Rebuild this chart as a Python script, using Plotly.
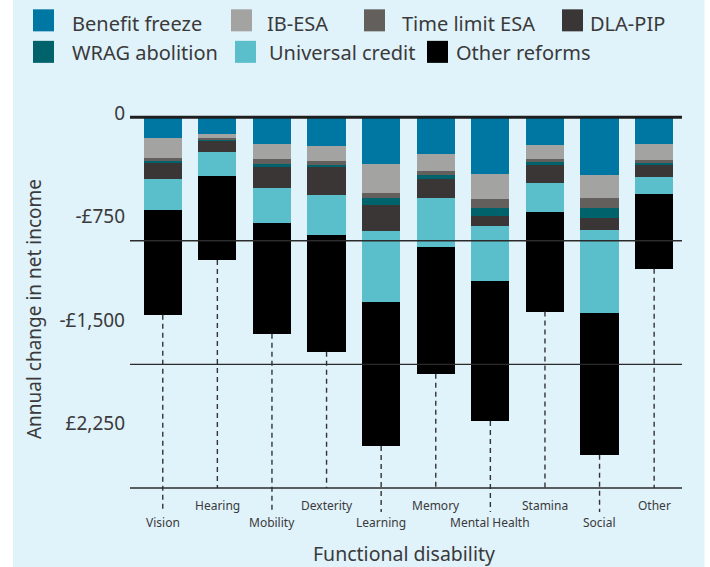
import numpy as np
import plotly.graph_objects as go

# ---------------- data ----------------
categories = ["Vision", "Hearing", "Mobility", "Dexterity", "Learning",
              "Memory", "Mental Health", "Stamina", "Social", "Other"]
benefit_freeze = [126, 101, 162, 174, 284, 223, 344, 168, 350, 162]
ib_esa = [121, 24, 91, 91, 176, 103, 152, 85, 140, 97]
time_limit_esa = [16, 18, 36, 30, 30, 24, 55, 24, 61, 24]
wrag_abolition = [14, 2, 12, 6, 43, 24, 49, 12, 61, 6]
dla_pip = [97, 67, 128, 170, 158, 115, 61, 109, 73, 73]
universal_credit = [188, 146, 213, 243, 429, 298, 332, 176, 502, 103]
other_reforms = [636, 508, 672, 709, 875, 769, 850, 605, 862, 454]

series_names = ["Benefit freeze", "IB-ESA", "Time limit ESA", "WRAG abolition",
                "DLA-PIP", "Universal credit", "Other reforms"]
series_values = [benefit_freeze, ib_esa, time_limit_esa, wrag_abolition,
                 dla_pip, universal_credit, other_reforms]
legend_order = ["Benefit freeze", "IB-ESA", "Time limit ESA", "DLA-PIP",
                "WRAG abolition", "Universal credit", "Other reforms"]

y_tick_values = [24, -604, -1231, -1858]
y_tick_labels = ["0", "-£750", "-£1,500", "£2,250"]
grid_values = [-750, -1500, -2250]

# ---------------- styles ----------------
colors = ["#0077A3", "#A3A3A1", "#625F5D", "#00626A", "#3A3635", "#5ABFCB", "#000000"]
color_of = dict(zip(series_names, colors))
BG = "#E0F2FA"
TXT = "#3A3A3A"
FONT = "Noto Sans"

W, H = 710, 567
ML, MR, MT, MB = 130, 28, 109.1, 51.2
PW, PH = W - ML - MR, H - MT - MB


def px_x(px):
    return (px - ML) / PW


def px_y(py):
    return (H - MB - py) / PH


fig = go.Figure()
for name, vals, col in zip(series_names, series_values, colors):
    fig.add_trace(go.Bar(
        x=categories, y=[-v for v in vals], name=name,
        marker=dict(color=col, line=dict(width=0)),
        showlegend=False, hoverinfo="x+y+name",
    ))

totals = np.sum(np.array(series_values), axis=0)

# dashed drop lines from bar bottom to axis / label
lower_row = [i % 2 == 0 for i in range(len(categories))]
dx, dy = [], []
for cat, tot, low in zip(categories, totals, lower_row):
    dx += [cat, cat, None]
    dy += [-float(tot), -2396 if low else grid_values[-1], None]
fig.add_trace(go.Scatter(
    x=dx, y=dy, mode="lines", showlegend=False, hoverinfo="skip",
    line=dict(color="#333333", width=1.4, dash="5px,4px"),
))

shapes = []
# zero line and grid lines
shapes.append(dict(type="line", xref="paper", yref="y", x0=0, x1=1, y0=0, y1=0,
                   line=dict(color="#1E1E1E", width=3), layer="above"))
for g in grid_values:
    shapes.append(dict(type="line", xref="paper", yref="y", x0=0, x1=1, y0=g, y1=g,
                       line=dict(color="#2B2B2B", width=1.4), layer="above"))
# white page margins
shapes.append(dict(type="rect", xref="paper", yref="paper", x0=px_x(-5), x1=px_x(13),
                   y0=px_y(H + 5), y1=px_y(-5), fillcolor="white", line=dict(width=0),
                   layer="below"))
shapes.append(dict(type="rect", xref="paper", yref="paper", x0=px_x(704.5), x1=px_x(W + 5),
                   y0=px_y(H + 5), y1=px_y(-5), fillcolor="white", line=dict(width=0),
                   layer="below"))

annotations = []
# category labels (two staggered rows)
for cat, low in zip(categories, lower_row):
    annotations.append(dict(
        x=cat, xref="x", yref="paper", y=px_y(522.7 if low else 505),
        text=cat, showarrow=False, xanchor="center", yanchor="middle",
        font=dict(family=FONT, size=12, color=TXT),
    ))
# axis titles
annotations.append(dict(
    x=px_x(404), y=px_y(553), xref="paper", yref="paper", text="Functional disability",
    showarrow=False, xanchor="center", yanchor="middle",
    font=dict(family=FONT, size=19.5, color=TXT),
))
annotations.append(dict(
    x=px_x(34), y=px_y(309), xref="paper", yref="paper", text="Annual change in net income",
    showarrow=False, xanchor="center", yanchor="middle", textangle=-90,
    font=dict(family=FONT, size=19, color=TXT),
))

# manual legend (swatch left px, text left px, row)
legend_layout = [(33, 70, 0), (231, 265, 0), (364, 400, 0), (562, 588, 0),
                 (33, 70, 1), (235, 267, 1), (427, 454, 1)]
row_swatch = [(9.5, 31.5), (41, 63)]
row_text = [23.3, 53]
for name, (sx, tx, r) in zip(legend_order, legend_layout):
    y0p, y1p = row_swatch[r]
    shapes.append(dict(type="rect", xref="paper", yref="paper",
                       x0=px_x(sx), x1=px_x(sx + 21), y0=px_y(y1p), y1=px_y(y0p),
                       fillcolor=color_of[name], line=dict(width=0), layer="above"))
    annotations.append(dict(
        x=px_x(tx), y=px_y(row_text[r]), xref="paper", yref="paper", text=name,
        showarrow=False, xanchor="left", yanchor="middle",
        font=dict(family=FONT, size=20, color=TXT),
    ))

fig.update_layout(
    width=W, height=H,
    margin=dict(l=ML, r=MR, t=MT, b=MB, pad=0),
    paper_bgcolor=BG, plot_bgcolor=BG,
    barmode="stack", bargap=0.3,
    showlegend=False,
    shapes=shapes, annotations=annotations,
    font=dict(family=FONT, color=TXT),
    xaxis=dict(type="category", range=[-0.6, 9.51], showticklabels=False,
               showgrid=False, zeroline=False, showline=False, ticks=""),
    yaxis=dict(range=[-2420, 50], tickvals=y_tick_values, ticktext=y_tick_labels,
               showgrid=False, zeroline=False, showline=False, ticks="",
               tickfont=dict(family=FONT, size=19, color=TXT), ticklabelstandoff=4),
)

fig.write_html(
    "out.html",
    config={"displayModeBar": False},
    post_script="document.body.style.margin='0';document.body.style.overflow='hidden';",
)
